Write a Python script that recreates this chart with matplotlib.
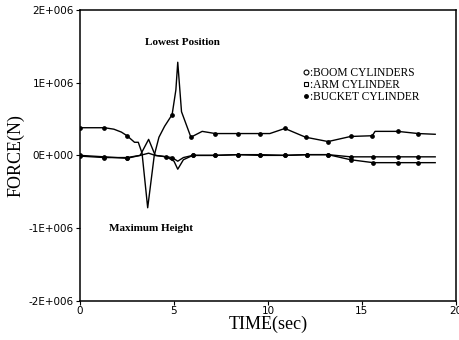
import matplotlib
matplotlib.use("Agg")
import matplotlib.pyplot as plt
from matplotlib.lines import Line2D
from matplotlib.ticker import FuncFormatter

# time (s) and force (N, in units of 1E+006)
boom_t = [0, 1.3, 1.8, 2.2, 2.5, 2.9, 3.1, 3.3, 3.6, 3.95, 4.2, 4.5, 4.9, 5.1, 5.2,
          5.4, 5.9, 6.5, 7.2, 8.4, 9.6, 10.1, 10.9, 12.0, 13.2, 14.4, 15.55, 15.7,
          16.9, 18.0, 18.9]
boom_f = [0.38, 0.38, 0.36, 0.32, 0.27, 0.18, 0.18, 0.03, -0.72, 0.0, 0.25, 0.4, 0.56,
          0.9, 1.28, 0.6, 0.25, 0.33, 0.30, 0.30, 0.30, 0.30, 0.37, 0.25, 0.19, 0.26,
          0.27, 0.33, 0.33, 0.30, 0.29]
boom_marks = [0, 1, 4, 12, 16, 18, 19, 20, 22, 23, 24, 25, 26, 28, 29]

arm_t = [0, 1.3, 2.5, 3.2, 3.65, 4.0, 4.6, 5.0, 5.2, 5.5, 6.0, 7.2, 8.4, 9.6, 10.9,
         12.1, 13.2, 14.4, 15.6, 16.9, 18.0, 18.9]
arm_f = [0.0, -0.02, -0.04, 0.0, 0.22, 0.0, -0.02, -0.08, -0.19, -0.06, 0.0, 0.0,
         0.01, 0.01, 0.0, 0.01, 0.01, -0.06, -0.10, -0.10, -0.10, -0.10]
arm_marks = [0, 1, 2, 6, 10, 11, 12, 13, 14, 15, 16, 17, 18, 19, 20]

bucket_t = [0, 1.3, 2.5, 3.2, 3.65, 4.0, 4.9, 5.2, 5.5, 6.0, 7.2, 8.4, 9.6, 10.9,
            12.1, 13.2, 14.4, 15.6, 16.9, 18.0, 18.9]
bucket_f = [-0.01, -0.03, -0.03, 0.0, 0.03, 0.0, -0.03, -0.08, -0.03, 0.0, 0.0, 0.01,
            0.0, 0.0, 0.01, 0.01, -0.02, -0.02, -0.02, -0.02, -0.02]
bucket_marks = [0, 1, 2, 6, 9, 10, 11, 12, 13, 14, 15, 16, 17, 18, 19]

y_ticks = [-2, -1, 0, 1, 2]
y_labels = ["-2E+006", "-1E+006", "0E+000", "1E+006", "2E+006"]
x_ticks = [0, 5, 10, 15, 20]

serif = ["Liberation Serif", "DejaVu Serif"]

fig = plt.figure(figsize=(4.6, 3.4), dpi=100)
ax = fig.add_axes([0.174, 0.115, 0.817, 0.856])

scale = 1e6
for t, f, marks in [(boom_t, boom_f, boom_marks),
                    (arm_t, arm_f, arm_marks),
                    (bucket_t, bucket_f, bucket_marks)]:
    ax.plot(t, [v * scale for v in f], color="black", lw=1.0,
            marker="o", ms=2.4, markevery=marks)

ax.set_xlim(0, 20)
ax.set_ylim(-2 * scale, 2 * scale)
ax.set_xticks(x_ticks)
ax.set_yticks([v * scale for v in y_ticks])
ax.yaxis.set_major_formatter(FuncFormatter(
    lambda v, p: y_labels[y_ticks.index(int(round(v / scale)))]))
ax.tick_params(axis="both", labelsize=7.5, length=3, width=0.8, pad=1.5)
ax.tick_params(axis="x", pad=0.5)
for s in ax.spines.values():
    s.set_linewidth(1.1)

ax.set_xlabel("TIME(sec)", family=serif, fontsize=13, labelpad=0)
ax.set_ylabel("FORCE(N)", family=serif, fontsize=13, labelpad=3)

ax.text(5.45, 1.55 * scale, "Lowest Position", family=serif, fontsize=8,
        fontweight="bold", ha="center", va="center")
ax.text(3.8, -1.0 * scale, "Maximum Height", family=serif, fontsize=8,
        fontweight="bold", ha="center", va="center")

handles = [
    Line2D([], [], ls="none", marker="o", ms=3.5, mfc="white", mec="black", mew=0.8),
    Line2D([], [], ls="none", marker="s", ms=3.2, mfc="white", mec="black", mew=0.8),
    Line2D([], [], ls="none", marker="o", ms=2.5, mfc="black", mec="black"),
]
names = [":BOOM CYLINDERS", ":ARM CYLINDER", ":BUCKET CYLINDER"]
ax.legend(handles, names, loc="upper left", bbox_to_anchor=(0.58, 0.825),
          frameon=False, handlelength=0.4, handletextpad=0.1, labelspacing=0.0,
          borderpad=0, prop={"family": serif, "size": 8.3})

fig.savefig("out.png", dpi=100)
